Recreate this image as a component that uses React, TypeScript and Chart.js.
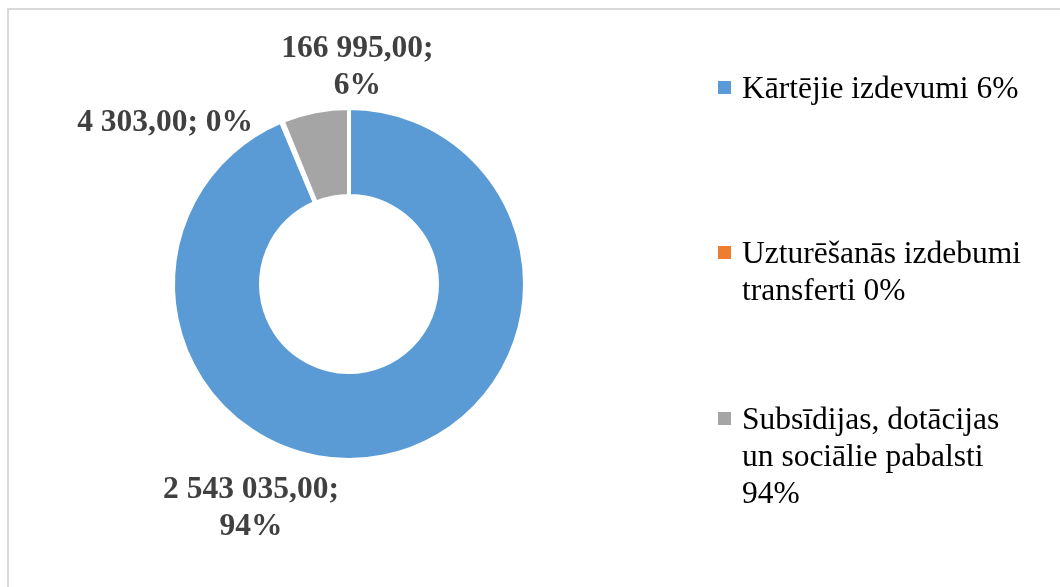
import React, { useEffect, useRef } from "react";
import { Chart, registerables } from "chart.js";

Chart.register(...registerables);

const categories = ["Kārtējie izdevumi 6%", "Uzturēšanās izdebumi transferti 0%", "Subsīdijas, dotācijas un sociālie pabalsti 94%"];
const legendLines = [
  ["Kārtējie izdevumi 6%"],
  ["Uzturēšanās izdebumi", "transferti 0%"],
  ["Subsīdijas, dotācijas", "un sociālie pabalsti", "94%"],
];
const values = [2543035, 4303, 166995];
const colors = ["#5B9BD5", "#ED7D31", "#A5A5A5"];
const labelWrap = [true, false, true];

const FONT = '"Liberation Serif", "Times New Roman", serif';

// label anchor offsets in units of the outer radius (relative to doughnut centre)
const labelOffsets = [
  [-0.557, 1.276],
  [-1.045, -0.918],
  [0.048, -1.23],
];

function fmt(v: number): string {
  const s = Math.round(v).toString();
  return s.replace(/\B(?=(\d{3})+(?!\d))/g, " ") + ",00";
}

const labelPlugin = {
  id: "dlabels",
  afterDraw(chart: any) {
    const ctx = chart.ctx;
    const meta = chart.getDatasetMeta(0);
    const total = values.reduce((a, b) => a + b, 0);
    ctx.save();
    ctx.font = `bold 31.5px ${FONT}`;
    ctx.fillStyle = "#404040";
    ctx.textAlign = "center";
    ctx.textBaseline = "middle";
    meta.data.forEach((arc: any, i: number) => {
      const r = arc.outerRadius;
      const cx = arc.x + labelOffsets[i][0] * r;
      const cy = arc.y + labelOffsets[i][1] * r;
      const pct = Math.round((values[i] / total) * 100) + "%";
      const lines = labelWrap[i] ? [fmt(values[i]) + ";", pct] : [fmt(values[i]) + "; " + pct];
      const lh = 37;
      const start = cy - ((lines.length - 1) * lh) / 2;
      lines.forEach((ln, k) => ctx.fillText(ln, cx, start + k * lh));
    });
    ctx.restore();
  },
};

export default function App() {
  const ref = useRef<HTMLCanvasElement | null>(null);
  useEffect(() => {
    if (!ref.current) return;
    const chart = new Chart(ref.current, {
      type: "doughnut",
      data: {
        labels: categories,
        datasets: [
          {
            data: values,
            backgroundColor: colors,
            borderColor: "#ffffff",
            borderWidth: 4,
          },
        ],
      },
      options: {
        animation: false,
        responsive: false,
        maintainAspectRatio: false,
        cutout: "50%",
        layout: { padding: { left: 171, right: 533, top: 106, bottom: 125 } },
        plugins: { legend: { display: false }, tooltip: { enabled: false } },
      },
      plugins: [labelPlugin],
    });
    return () => chart.destroy();
  }, []);

  const itemTops = [69, 234, 400];

  return (
    <div style={{ position: "fixed", left: 0, top: 0, width: 1060, height: 587, overflow: "hidden", background: "#fff" }}>
      <div style={{ position: "absolute", left: 7, top: 8, width: 1200, height: 800, border: "2px solid #d9d9d9", boxSizing: "border-box" }} />
      <canvas ref={ref} width={1060} height={587} style={{ position: "absolute", left: 0, top: 0, width: 1060, height: 587 }} />
      {legendLines.map((lines, i) => (
        <div key={i} style={{ position: "absolute", left: 718, top: itemTops[i], fontFamily: FONT, fontSize: 31.5, lineHeight: "37px", color: "#000" }}>
          <span style={{ position: "absolute", left: 0, top: 12, width: 13, height: 13, background: colors[i] }} />
          <div style={{ marginLeft: 24, whiteSpace: "nowrap" }}>
            {lines.map((l, k) => (
              <div key={k}>{l}</div>
            ))}
          </div>
        </div>
      ))}
    </div>
  );
}
